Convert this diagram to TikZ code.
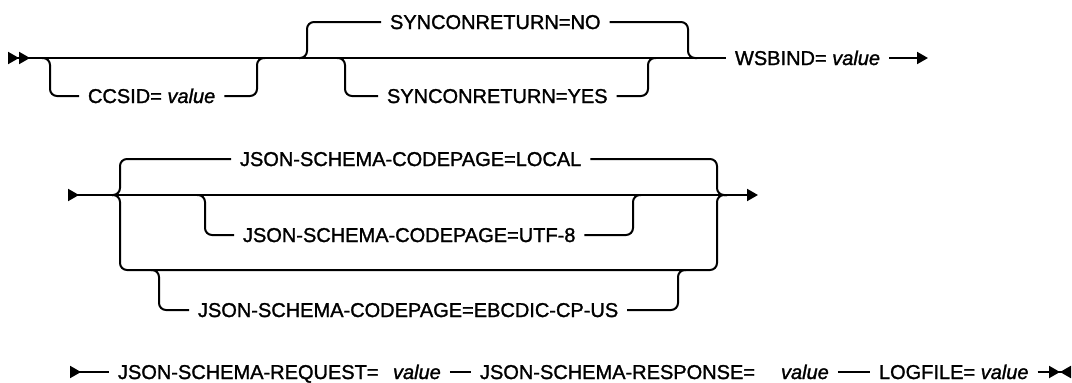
\documentclass[tikz,border=0pt]{standalone}
\usepackage{fontspec}
\setmainfont{Liberation Sans}[UprightFeatures={FakeBold=1.4}, ItalicFeatures={FakeBold=1.4}]
\usetikzlibrary{arrows.meta}
\begin{document}
\begin{tikzpicture}[x=1pt,y=-1pt]
	\tikzset{rail/.style={line width=2pt, rounded corners=7pt},
	lbl/.style={inner sep=0pt, outer xsep=9pt, outer ysep=0pt, text height=14pt, text depth=0pt, anchor=west, font=\fontsize{20}{24}\selectfont},
	tete/.tip={Triangle[length=11pt, width=12pt]}};

	\useasboundingbox (0,0) rectangle (1072,383);

	% ligne 1
	\coordinate (s1) at (8,58);
	\coordinate (e1) at (928,58);
	\foreach \n/\x in {c1/42, c2/265, n1/299, n2/697, y1/337, y2/656}{
		\coordinate (\n) at (\x,58);
	}
	\node[lbl] (ccsid) at (79,96) {CCSID= \textit{value}};
	\node[lbl] (syncno) at (381,22) {SYNCONRETURN=NO};
	\node[lbl] (syncyes) at (378,96) {SYNCONRETURN=YES};
	\node[lbl] (wsbind) at (726,58) {WSBIND= \textit{value}};

	\draw[rail, {tete[reversed]tete[reversed]}-] (s1) -- (wsbind.west);
	\draw[rail] (c1) -- ++(8,0) |- (ccsid.west);
	\draw[rail] (ccsid.east) -| ([xshift=-8pt]c2) -- (c2);
	\draw[rail] (n1) -- ++(8,0) |- (syncno.west);
	\draw[rail] (syncno.east) -| ([xshift=-9pt]n2) -- (n2);
	\draw[rail] (y1) -- ++(8,0) |- (syncyes.west);
	\draw[rail] (syncyes.east) -| ([xshift=-8pt]y2) -- (y2);
	\draw[rail, -{tete}] (wsbind.east) -- (e1);

	% ligne 2
	\coordinate (s2) at (68,195);
	\coordinate (e2) at (758,195);
	\coordinate (codeIn) at (112,195);
	\coordinate (codeOut) at (727,195);
	\coordinate (boxL) at (120,270);
	\coordinate (boxR) at (717,270);
	\coordinate (utfIn) at (197,195);
	\coordinate (utfOut) at (641,195);
	\coordinate (ebcIn) at (151,270);
	\coordinate (ebcOut) at (686,270);
	\node[lbl] (local) at (231,159) {JSON-SCHEMA-CODEPAGE=LOCAL};
	\node[lbl] (utf) at (234,235) {JSON-SCHEMA-CODEPAGE=UTF-8};
	\node[lbl] (ebcdic) at (189,310) {JSON-SCHEMA-CODEPAGE=EBCDIC-CP-US};

	\draw[rail, {tete[reversed]}-{tete}] (s2) -- (e2);
	\draw[rail] (codeIn) -- ++(8,0) |- (local.west);
	\draw[rail] (local.east) -| ([xshift=-10pt]codeOut) -- (codeOut);
	\draw[rail] (codeIn) -| (boxL) -- (boxR) |- (codeOut);
	\draw[rail] (utfIn) -- ++(8,0) |- (utf.west);
	\draw[rail] (utf.east) -| ([xshift=-8pt]utfOut) -- (utfOut);
	\draw[rail] (ebcIn) -- ++(8,0) |- (ebcdic.west);
	\draw[rail] (ebcdic.east) -| ([xshift=-8pt]ebcOut) -- (ebcOut);

	% ligne 3
	\coordinate (s3) at (70,372);
	\coordinate (e3) at (1071,372);
	\node[lbl] (req) at (109,372) {JSON-SCHEMA-REQUEST=};
	\node[lbl] (reqv) at (384,372) {\textit{value}};
	\node[lbl] (resp) at (471,372) {JSON-SCHEMA-RESPONSE=};
	\node[lbl] (respv) at (772,372) {\textit{value}};
	\node[lbl] (logfile) at (870,372) {LOGFILE= \textit{value}};

	\draw[rail, {tete[reversed]}-] (s3) -- (req.west);
	\foreach \a/\b in {reqv/resp, respv/logfile}{
		\draw[rail] (\a.east) -- (\b.west);
	}
	\draw[rail, -{tete[]tete[reversed]}] (logfile.east) -- (e3);

\end{tikzpicture}
\end{document}
